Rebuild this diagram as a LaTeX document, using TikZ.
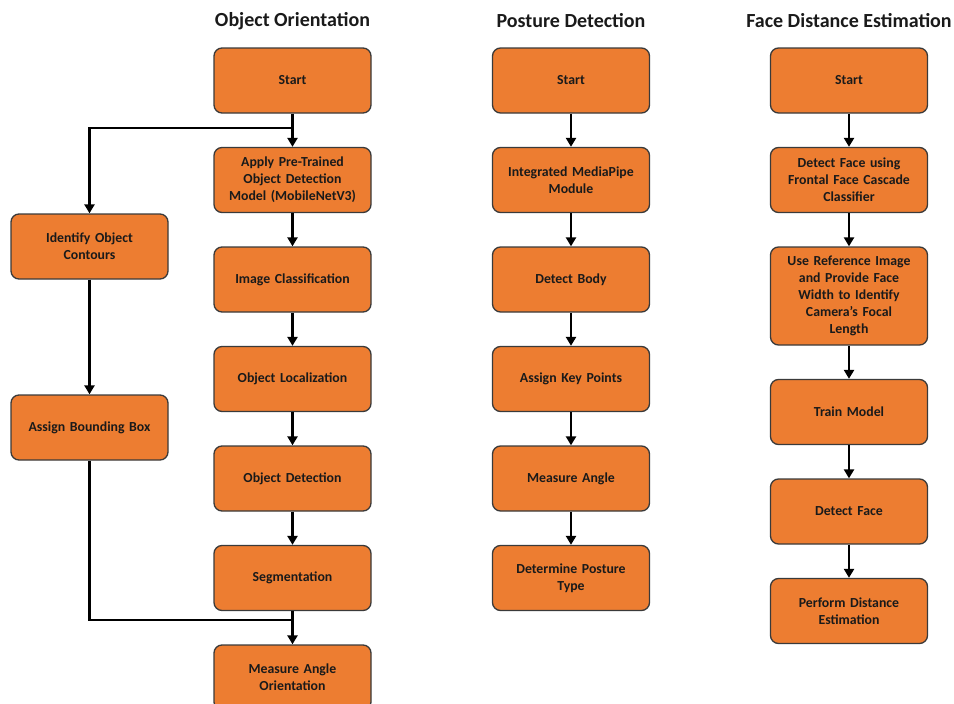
\documentclass[tikz,border=0pt]{standalone}
\usepackage{fontspec}
\setmainfont{Carlito}
\usetikzlibrary{arrows.meta,positioning}
\definecolor{boxorange}{HTML}{ED7D31}
\definecolor{edgegray}{HTML}{3A3A3A}
\definecolor{textdark}{HTML}{1A1A1A}

\begin{document}
\begin{tikzpicture}[x=1pt,y=-1pt,>={Triangle[width=10pt,length=9pt]},
  box/.style={draw=edgegray,line width=1.3pt,fill=boxorange,rounded corners=8pt,
    minimum width=157pt,minimum height=65pt,text width=150pt,align=center,
    text=textdark,font=\fontsize{13.8}{17}\selectfont\bfseries},
  title/.style={text=textdark,font=\fontsize{20}{24}\selectfont\bfseries},
  link/.style={line width=2.6pt,black},
  node distance=33.2pt]
\useasboundingbox (0,0) rectangle (954,704);
% titles
\node[title] (tObj) at (292.5,21) {Object Orientation};
\node[title] (tPos) at (571,21) {Posture Detection};
\node[title] (tFace) at (849,21) {Face Distance Estimation};
% object orientation
\node[box] (oStart) at (292.5,80.5) {Start};
\node[box,below=of oStart] (oApply) {Apply Pre-Trained\\Object Detection\\Model (MobileNetV3)};
\node[box,below=of oApply] (oClass) {Image Classification};
\node[box,below=of oClass] (oLocal) {Object Localization};
\node[box,below=of oLocal] (oDetect) {Object Detection};
\node[box,below=of oDetect] (oSeg) {Segmentation};
\node[box,below=of oSeg] (oMeasure) {Measure Angle\\Orientation};
\node[box] (oContours) at (89.5,246.5) {Identify Object\\Contours};
\node[box] (oBox) at (89.5,427.5) {Assign Bounding Box};
\coordinate (split) at (292.5,128);
\coordinate (merge) at (292.5,620);
\draw[link,->] (oStart) -- (oApply);
\draw[link,->] (split) -| (oContours);
\draw[link,->] (oApply) -- (oClass);
\draw[link,->] (oClass) -- (oLocal);
\draw[link,->] (oLocal) -- (oDetect);
\draw[link,->] (oDetect) -- (oSeg);
\draw[link,->] (oSeg) -- (oMeasure);
\draw[link,->] (oContours) -- (oBox);
\draw[link] (oBox) |- (merge);
% posture detection
\node[box] (pStart) at (571,80.5) {Start};
\node[box,below=of pStart] (pMedia) {Integrated MediaPipe\\Module};
\node[box,below=of pMedia] (pBody) {Detect Body};
\node[box,below=of pBody] (pPoints) {Assign Key Points};
\node[box,below=of pPoints] (pAngle) {Measure Angle};
\node[box,below=of pAngle] (pType) {Determine Posture\\Type};
\draw[link,->] (pStart) -- (pMedia);
\draw[link,->] (pMedia) -- (pBody);
\draw[link,->] (pBody) -- (pPoints);
\draw[link,->] (pPoints) -- (pAngle);
\draw[link,->] (pAngle) -- (pType);
% face distance estimation
\node[box] (fStart) at (849,80.5) {Start};
\node[box,below=of fStart] (fCascade) {Detect Face using\\Frontal Face Cascade\\Classifier};
\node[box,below=of fCascade,minimum height=98pt] (fFocal) {Use Reference Image\\and Provide Face\\Width to Identify\\Camera’s Focal\\Length};
\node[box,below=of fFocal] (fTrain) {Train Model};
\node[box,below=of fTrain] (fDetect) {Detect Face};
\node[box,below=of fDetect] (fDist) {Perform Distance\\Estimation};
\draw[link,->] (fStart) -- (fCascade);
\draw[link,->] (fCascade) -- (fFocal);
\draw[link,->] (fFocal) -- (fTrain);
\draw[link,->] (fTrain) -- (fDetect);
\draw[link,->] (fDetect) -- (fDist);
\end{tikzpicture}
\end{document}
